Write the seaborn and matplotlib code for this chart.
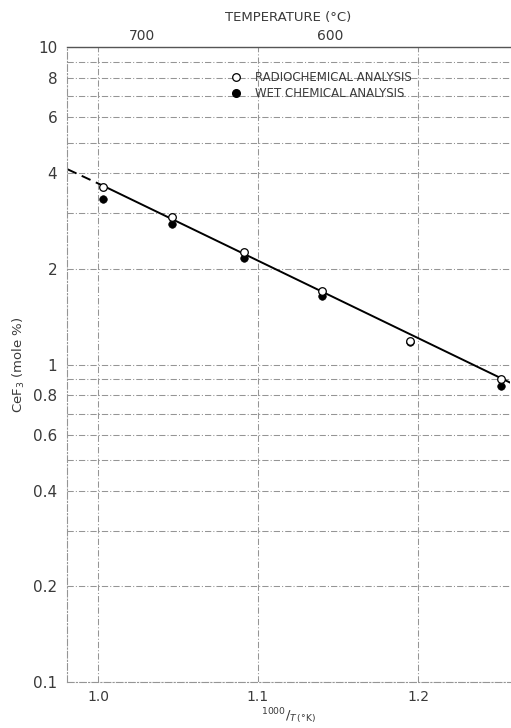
import numpy as np
import pandas as pd
import matplotlib
matplotlib.use("Agg")
import matplotlib.pyplot as plt
import seaborn as sns
from matplotlib.lines import Line2D
from matplotlib.ticker import FixedLocator, FixedFormatter, NullFormatter

# ---- data ----
inv_T = [1.003, 1.046, 1.091, 1.140, 1.195, 1.252]
radiochemical = [3.62, 2.92, 2.26, 1.70, 1.19, 0.90]
wet_chemical = [3.32, 2.78, 2.17, 1.64, 1.18, 0.855]

fit_dashed_x = [0.981, 1.003]
fit_dashed_y = [4.12, 3.66]
fit_solid_x = [1.003, 1.258]
fit_solid_y = [3.66, 0.875]

y_ticks = [0.1, 0.2, 0.4, 0.6, 0.8, 1, 2, 4, 6, 8, 10]
y_tick_labels = ["0.1", "0.2", "0.4", "0.6", "0.8", "1", "2", "4", "6", "8", "10"]
y_grid = [0.1, 0.2, 0.3, 0.4, 0.5, 0.6, 0.7, 0.8, 0.9, 1, 2, 3, 4, 5, 6, 7, 8, 9, 10]
x_ticks = [1.0, 1.1, 1.2]
x_tick_labels = ["1.0", "1.1", "1.2"]
top_ticks_C = [700, 600]
top_tick_labels = ["700", "600"]

series_labels = ["RADIOCHEMICAL ANALYSIS", "WET CHEMICAL ANALYSIS"]

sns.set_style("white")
plt.rcParams["font.family"] = ["DejaVu Sans"]
TXT = "#3a3a3a"
GRID = "#959595"
DASHDOT = (0, (6, 2, 1, 2))

fig = plt.figure(figsize=(5.11, 7.28), dpi=100)
ax = fig.add_axes([0.131, 0.0632, 0.867, 0.8722])

df = pd.DataFrame({"x": inv_T * 2,
                   "y": radiochemical + wet_chemical,
                   "kind": [series_labels[0]] * 6 + [series_labels[1]] * 6})

# grid lines
for v in y_grid:
    ax.axhline(v, color=GRID, lw=0.75, ls=DASHDOT, zorder=0)
for v in x_ticks:
    ax.axvline(v, color=GRID, lw=0.75, ls=DASHDOT, zorder=0)

# fitted line
sns.lineplot(x=fit_dashed_x, y=fit_dashed_y, ax=ax, color="black", lw=1.4,
             linestyle=(0, (5, 3)), zorder=2)
sns.lineplot(x=fit_solid_x, y=fit_solid_y, ax=ax, color="black", lw=1.4, zorder=2)

# points
sns.scatterplot(data=df[df.kind == series_labels[1]], x="x", y="y", ax=ax,
                color="black", edgecolor="black", s=30, marker="o", zorder=3, legend=False)
sns.scatterplot(data=df[df.kind == series_labels[0]], x="x", y="y", ax=ax,
                facecolor="white", edgecolor="black", linewidth=0.9, s=30, marker="o",
                zorder=4, legend=False)

ax.set_yscale("log")
ax.set_ylim(0.1, 10)
ax.set_xlim(0.9806, 1.2575)

ax.minorticks_off()
ax.yaxis.set_major_locator(FixedLocator(y_ticks))
ax.yaxis.set_major_formatter(FixedFormatter(y_tick_labels))
ax.yaxis.set_minor_formatter(NullFormatter())
ax.set_xticks(x_ticks)
ax.set_xticklabels(x_tick_labels)
ax.tick_params(axis="y", which="both", length=0, pad=7, labelsize=11, colors=TXT)
ax.tick_params(axis="x", which="both", length=0, pad=6, labelsize=10, colors=TXT)

ax.spines["right"].set_visible(False)
for s in ["left", "bottom"]:
    ax.spines[s].set_color(GRID)
    ax.spines[s].set_linestyle(DASHDOT)
    ax.spines[s].set_linewidth(0.8)
ax.spines["top"].set_color("#555555")
ax.spines["top"].set_linewidth(1.0)

ax.set_ylabel(r"CeF$_3$ (mole %)", color=TXT, fontsize=9.5, labelpad=4)
ax.set_xlabel("")
fig.text(0.565, 0.003, r"$^{\mathrm{1000}}/_{\mathit{T}\,\mathrm{(°K)}}$", color=TXT,
         fontsize=9.5, ha="center", va="bottom")

# top temperature axis (°C -> 1000/T(K))
top_pos = [1000.0 / (c + 273.15) for c in top_ticks_C]
axt = ax.twiny()
axt.set_xlim(ax.get_xlim())
axt.set_xticks(top_pos)
axt.set_xticklabels(top_tick_labels)
axt.tick_params(axis="x", length=0, pad=3, labelsize=10, colors=TXT)
for s in axt.spines.values():
    s.set_visible(False)
axt.set_xlabel("TEMPERATURE (°C)", color=TXT, fontsize=9.5, labelpad=6)

# legend
handles = [Line2D([], [], ls="none", marker="o", markersize=5.5, markerfacecolor="white",
                  markeredgecolor="black", markeredgewidth=0.9),
           Line2D([], [], ls="none", marker="o", markersize=5.5, markerfacecolor="black",
                  markeredgecolor="black")]
leg = ax.legend(handles, series_labels, loc="upper left", bbox_to_anchor=(0.438, 0.911),
                bbox_transform=fig.transFigure, frameon=False, fontsize=8.5,
                handletextpad=1.1, labelspacing=0.25, handlelength=1.0, borderpad=0)
for t in leg.get_texts():
    t.set_color(TXT)

fig.savefig("out.png", dpi=100)
